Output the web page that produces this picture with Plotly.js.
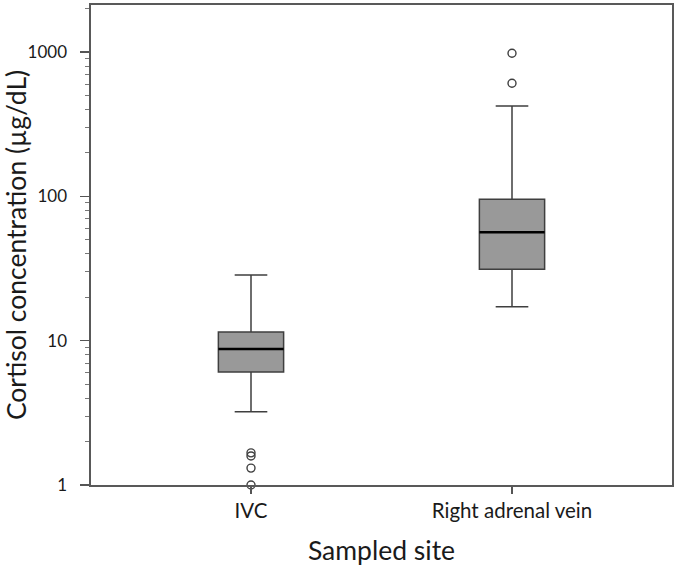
<!DOCTYPE html>
<html>
<head>
<meta charset="utf-8">
<script src="https://cdn.plot.ly/plotly-3.0.1.min.js"></script>
<style>html,body{margin:0;padding:0;background:#fff;}#chart{width:675px;height:569px;}</style>
</head>
<body>
<div id="chart"></div>
<script>
// Data
const categories = ['IVC', 'Right adrenal vein'];
const lowerWhisker = [3.22, 17.2];
const q1 = [6.07, 31.2];
const median = [8.76, 56.4];
const q3 = [11.5, 95.5];
const upperWhisker = [28.5, 423];
const outliersIVC = [1.67, 1.59, 1.31, 1.0];
const outliersRAV = [981, 608];
const yTickVals = [1, 10, 100, 1000];

const boxWidth = 0.25;
const xPos = categories.map((c, i) => i);

const boxTrace = {
  type: 'box',
  x: xPos,
  lowerfence: lowerWhisker,
  q1: q1,
  median: median,
  q3: q3,
  upperfence: upperWhisker,
  width: boxWidth,
  whiskerwidth: 0.5,
  fillcolor: '#999999',
  line: {color: '#3f3f3f', width: 1.5},
  boxpoints: false,
  hoverinfo: 'skip',
  showlegend: false
};

const mx = [], my = [];
median.forEach((m, i) => {
  mx.push(xPos[i] - boxWidth / 2, xPos[i] + boxWidth / 2, null);
  my.push(m, m, null);
});
const medianTrace = {
  type: 'scatter', mode: 'lines', x: mx, y: my,
  line: {color: '#000000', width: 2.5}, showlegend: false, hoverinfo: 'skip'
};

const ox = [], oy = [];
[outliersIVC, outliersRAV].forEach((arr, i) => {
  arr.forEach(v => { ox.push(xPos[i]); oy.push(v); });
});
const outlierTrace = {
  type: 'scatter', mode: 'markers', x: ox, y: oy,
  marker: {symbol: 'circle-open', size: 8, color: '#404040', line: {width: 1.4}},
  showlegend: false, hoverinfo: 'skip', cliponaxis: false
};

const font = 'Lato, "Open Sans", sans-serif';
const layout = {
  width: 675, height: 569,
  margin: {l: 91, r: 3, t: 5, b: 84},
  paper_bgcolor: '#ffffff', plot_bgcolor: '#ffffff',
  font: {family: font, color: '#1a1a1a'},
  xaxis: {
    range: [-0.613, 1.613],
    tickmode: 'array', tickvals: xPos, ticktext: categories,
    ticks: 'outside', ticklen: 7, tickwidth: 1.2, tickcolor: '#555',
    ticklabelstandoff: 0,
    showgrid: false, zeroline: false,
    showline: true, mirror: true, linecolor: '#595959', linewidth: 1.6,
    tickfont: {size: 20.5, family: font, color: '#1a1a1a'},
    title: {text: 'Sampled site', font: {size: 26.5, family: font, color: '#1a1a1a'}, standoff: 20}
  },
  yaxis: {
    type: 'log',
    range: [0, 3.326],
    tickmode: 'array', tickvals: yTickVals, ticktext: yTickVals.map(String),
    ticks: 'outside', ticklen: 9, tickwidth: 1.4, tickcolor: '#555',
    ticklabelstandoff: 10,
    minor: {ticks: 'outside', ticklen: 4, tickwidth: 1, tickcolor: '#777', dtick: 'D1', showgrid: false},
    showgrid: false, zeroline: false,
    showline: true, mirror: true, linecolor: '#595959', linewidth: 1.6,
    tickfont: {size: 17, family: font, color: '#1a1a1a'},
    title: {text: 'Cortisol concentration (µg/dL)', font: {size: 26.5, family: font, color: '#1a1a1a'}, standoff: 4}
  }
};

Plotly.newPlot('chart', [boxTrace, medianTrace, outlierTrace], layout, {staticPlot: true, displayModeBar: false});
</script>
</body>
</html>
